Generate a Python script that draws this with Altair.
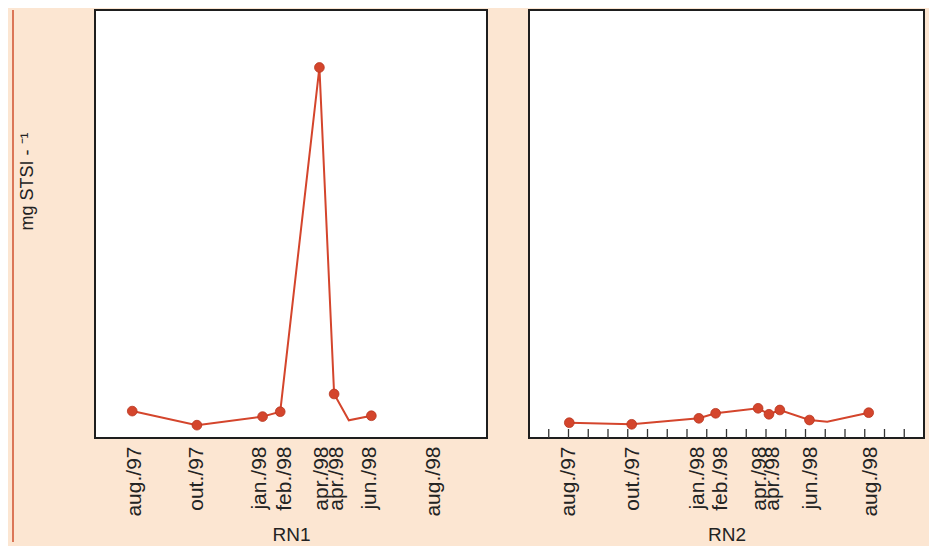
import altair as alt
import pandas as pd

# ---- data (x: sampling position on a common time axis, y: mg STSI) ----
DATE_LABELS = ["aug./97", "out./97", "jan./98", "feb./98", "apr./98", "apr./98", "jun./98", "aug./98"]
RN1_LABEL_T = [4.0, 10.4, 16.8, 19.3, 23.1, 24.6, 28.0, 34.5]
RN2_LABEL_T = [4.05, 10.5, 17.1, 19.4, 23.3, 24.7, 28.5, 34.6]

RN1_T = [3.8, 10.4, 17.1, 18.9, 22.9, 24.4, 25.9, 28.2]
RN1_V = [2.2, 1.05, 1.75, 2.15, 30.3, 3.6, 1.45, 1.82]
RN1_MARK = [1, 1, 1, 1, 1, 1, 0, 1]

RN2_T = [4.08, 10.4, 17.2, 18.9, 23.2, 24.3, 25.4, 28.4, 30.2, 34.4]
RN2_V = [1.25, 1.12, 1.61, 2.02, 2.43, 1.94, 2.29, 1.47, 1.33, 2.07]
RN2_MARK = [1, 1, 1, 1, 1, 1, 1, 1, 0, 1]

RN2_TICKS = [2, 4, 6, 8, 10, 12, 14, 16, 18, 20, 22, 24, 26, 28, 30, 32, 34, 36, 38]

RED = "#D4452C"
BG = "#FCE6D2"
FONT = "Liberation Sans"
TXT = "#232323"
W1, W2, H = 392, 395, 428


def label_expr(ts, labels):
    expr = "''"
    for t, l in reversed(list(zip(ts, labels))):
        expr = f"abs(datum.value - {t}) < 0.001 ? '{l}' : ({expr})"
    return expr


def x_enc(label_t, title):
    return alt.X(
        "t:Q",
        scale=alt.Scale(domain=[0, 40], nice=False, zero=False),
        axis=alt.Axis(
            values=label_t,
            labelExpr=label_expr(label_t, DATE_LABELS),
            labelAngle=270,
            labelOverlap=False,
            labelFlush=False,
            ticks=False,
            domain=False,
            grid=False,
            labelPadding=8,
            labelFontSize=21,
            labelFont=FONT,
            labelColor=TXT,
            title=title,
            titleFont=FONT,
            titleFontSize=19,
            titleFontWeight="normal",
            titleColor=TXT,
            titlePadding=9,
        ),
    )


def y_enc(axis):
    return alt.Y("v:Q", scale=alt.Scale(domain=[0, 35], nice=False, zero=True), axis=axis)


df1 = pd.DataFrame({"t": RN1_T, "v": RN1_V, "m": RN1_MARK})
df2 = pd.DataFrame({"t": RN2_T, "v": RN2_V, "m": RN2_MARK})
dft = pd.DataFrame({"t": RN2_TICKS})

y1_axis = alt.Axis(
    labels=False, ticks=False, domain=False, grid=False,
    title="mg STSI - ⁻¹", titleX=-68, titleY=171, titleAngle=270,
    titleBaseline="middle", titleAlign="center", titleFont=FONT,
    titleFontSize=18, titleFontWeight="normal", titleColor=TXT,
)

x1 = x_enc(RN1_LABEL_T, "RN1")
y1 = y_enc(y1_axis)
line1 = alt.Chart(df1).mark_line(color=RED, strokeWidth=2).encode(x=x1, y=y1)
pts1 = alt.Chart(df1).transform_filter("datum.m == 1").mark_circle(
    color=RED, size=95, opacity=1, stroke="#B8361F", strokeWidth=0.8
).encode(x=x1, y=y1)
border = alt.Chart(pd.DataFrame({"t": [0]})).mark_rule(
    color="#D0502E", strokeWidth=1.5, clip=False
).encode(x=alt.value(-82), y=alt.value(0), y2=alt.value(532))
p1 = alt.layer(border, line1, pts1).properties(width=W1, height=H)

x2 = x_enc(RN2_LABEL_T, "RN2")
y2 = y_enc(None)
ticks2 = alt.Chart(dft).mark_rule(color="#333333", strokeWidth=1.3).encode(
    x=alt.X("t:Q", scale=alt.Scale(domain=[0, 40], nice=False, zero=False)),
    y=alt.value(H - 9), y2=alt.value(H),
)
line2 = alt.Chart(df2).mark_line(color=RED, strokeWidth=2).encode(x=x2, y=y2)
pts2 = alt.Chart(df2).transform_filter("datum.m == 1").mark_circle(
    color=RED, size=95, opacity=1, stroke="#B8361F", strokeWidth=0.8
).encode(x=x2, y=y2)
p2 = alt.layer(ticks2, line2, pts2).properties(width=W2, height=H)

chart = alt.hconcat(p1, p2, spacing=40).properties(
    background=BG,
    padding={"left": 3, "top": 0, "right": 4, "bottom": 0},
).configure_view(
    fill="white", stroke="#1E1E1E", strokeWidth=2
)

chart.save("out.html", embed_options={"renderer": "svg", "actions": False})
